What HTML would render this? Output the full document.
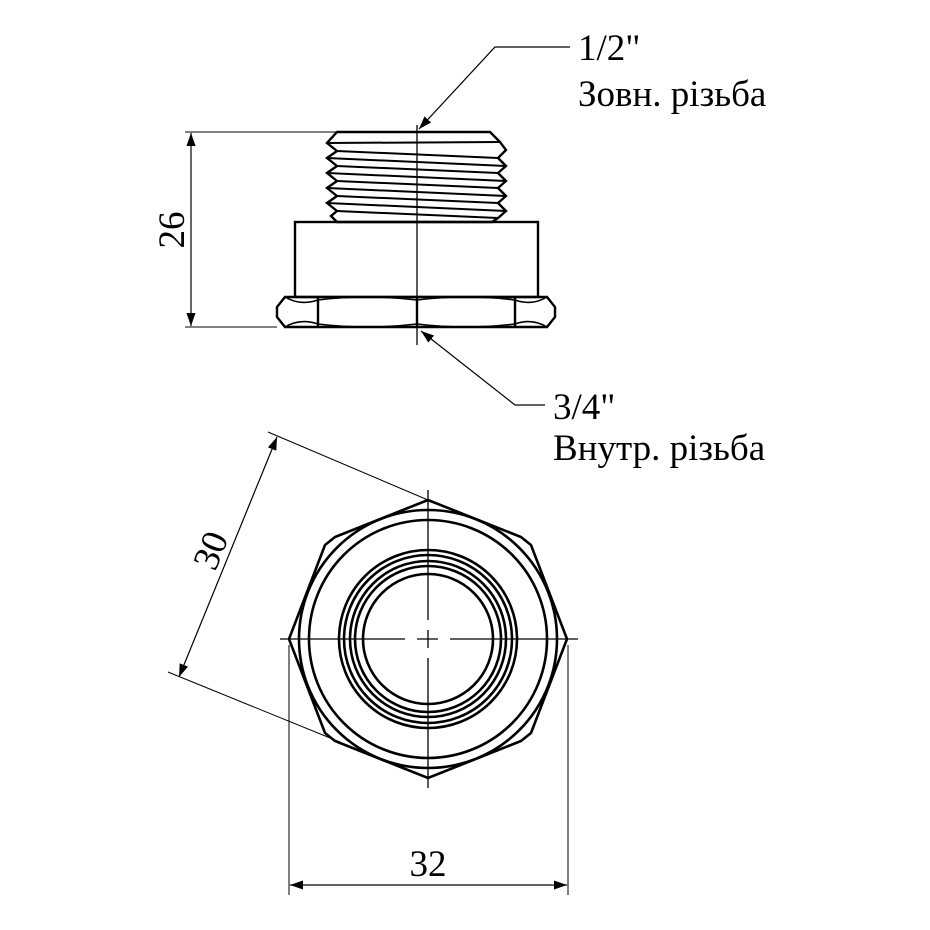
<!DOCTYPE html>
<html><head><style>body{margin:0;background:#fff}svg{display:block}</style></head><body>
<svg width="930" height="930" viewBox="0 0 930 930" xmlns="http://www.w3.org/2000/svg" font-family="Liberation Serif, serif">
<defs><marker id="a" viewBox="0 0 10 10" refX="10" refY="5" markerWidth="13" markerHeight="13" markerUnits="userSpaceOnUse" orient="auto"><path d="M0,1.5L10,5L0,8.5z" fill="#000"/></marker></defs>
<g stroke="#000" fill="none">
<!-- top view -->
<g stroke-width="2.4">
<path d="M337,132 L490,132 L500,142 L506,150 L498,158 L506,166 L498,173 L506,181 L498,188 L506,196 L498,203 L506,211 L498,218 L492,222 L337,222 L331,216 L337,211 L327,203 L337,196 L327,188 L337,181 L327,173 L337,166 L327,158 L337,151 L327,143 Z"/>
<path d="M327,143 L500,142 M337,151 L498,158 M327,158 L506,166 M337,166 L498,173 M327,173 L506,181 M337,181 L498,188 M327,188 L506,196 M337,196 L498,203 M327,203 L506,211 M337,211 L498,218" stroke-width="2"/>
<rect x="295" y="222" width="243" height="75"/>
<path d="M285,297 L547,297 L555,307 L555,317 L547,327 L285,327 L277,317 L277,307 Z"/>
<path d="M318,297 L318,327 M417,297 L417,327 M515,297 L515,327"/>
<path d="M285,297 Q300,306 318,300 Q367,294 417,300 Q467,294 515,300 Q532,306 547,297" stroke-width="1.6"/>
<path d="M285,327 Q300,318 318,324 Q367,330 417,324 Q467,330 515,324 Q532,318 547,327" stroke-width="1.6"/>
</g>
<path d="M417,125 L417,345" stroke-width="1.3"/>
<!-- 26 dim -->
<path d="M185,132 L337,132 M185,327 L277,327" stroke-width="1"/>
<path d="M191,230 L191,133" stroke-width="1.2" marker-end="url(#a)"/>
<path d="M191,230 L191,326" stroke-width="1.2" marker-end="url(#a)"/>
<!-- leaders -->
<path d="M570,47 L495,47 L419,129" stroke-width="1.2" marker-end="url(#a)"/>
<path d="M545,405 L515,405 L421,331" stroke-width="1.2" marker-end="url(#a)"/>
<!-- bottom view -->
<g stroke-width="2.6">
<path d="M428,500 L335,537 L325,545 L289,639 L325,733 L335,741 L428,778 L521,741 L531,733 L567,639 L531,545 L521,537 Z"/>
<circle cx="428" cy="639" r="129"/>
<circle cx="428" cy="639" r="119"/>
<circle cx="428" cy="639" r="89"/>
<circle cx="428" cy="639" r="84"/>
<circle cx="428" cy="639" r="78"/>
<circle cx="428" cy="639" r="73"/>
<circle cx="428" cy="639" r="65"/>
</g>
<path d="M428,490 L428,620 M428,630 L428,648 M428,658 L428,788 M280,639 L405,639 M417,639 L438,639 M450,639 L578,639" stroke-width="1.3"/>
<!-- 30 dim -->
<path d="M268,432 L428,500 M168,672 L340,742" stroke-width="1"/>
<path d="M228,557 L277,437" stroke-width="1.2" marker-end="url(#a)"/>
<path d="M228,557 L179,677" stroke-width="1.2" marker-end="url(#a)"/>
<!-- 32 dim -->
<path d="M289,645 L289,895 M568,645 L568,895" stroke-width="1"/>
<path d="M428,885 L290,885" stroke-width="1.2" marker-end="url(#a)"/>
<path d="M428,885 L567,885" stroke-width="1.2" marker-end="url(#a)"/>
</g>
<g font-size="37" fill="#000">
<text x="578" y="60">1/2"</text>
<text x="578" y="106">Зовн. різьба</text>
<text x="553" y="419">3/4"</text>
<text x="553" y="460">Внутр. різьба</text>
<text x="428" y="876" text-anchor="middle">32</text>
<text transform="translate(184,230) rotate(-90)" text-anchor="middle">26</text>
<text transform="translate(222,555) rotate(-68)" text-anchor="middle">30</text>
</g>
</svg>
</body></html>
